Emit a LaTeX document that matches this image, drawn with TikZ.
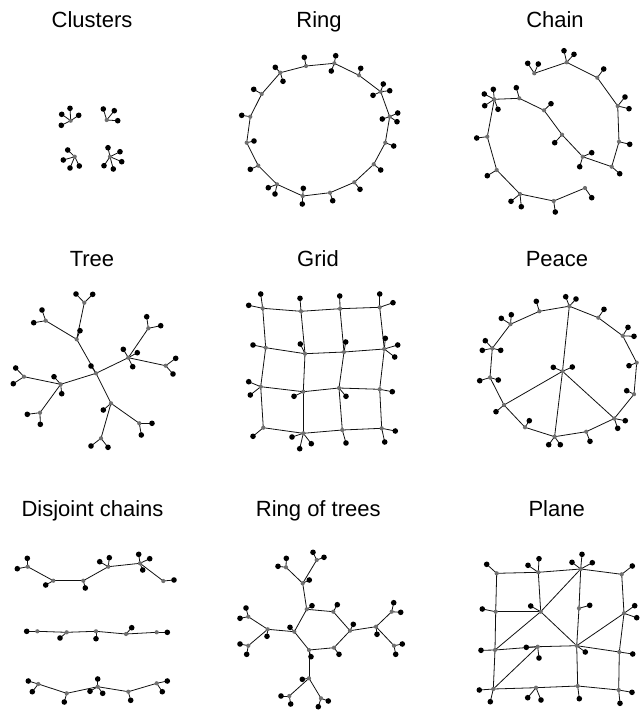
\documentclass[tikz,border=0pt]{standalone}
\usepackage{fontspec}
\setmainfont{Liberation Sans}
\definecolor{hubgray}{HTML}{707070}
\definecolor{wire}{HTML}{111111}
\pgfdeclarelayer{edges}
\pgfsetlayers{edges,main}

\begin{document}
\begin{tikzpicture}[x=1pt, y=-1pt,
    hub/.style={circle, fill=hubgray, inner sep=0pt, minimum size=4.2pt},
    leaf/.style={circle, fill=black, inner sep=0pt, minimum size=5.6pt},
    link/.style={draw=wire, line width=0.8pt},
    title/.style={font=\fontsize{22}{26}\selectfont, anchor=base}]
  \useasboundingbox (0,0) rectangle (644,710);

  % titles
  \node[title] (tclu) at (92,27.5) {Clusters};
  \node[title] (trng) at (319,27.5) {Ring};
  \node[title] (tchn) at (555,27.5) {Chain};
  \node[title] (ttre) at (92,266) {Tree};
  \node[title] (tgrd) at (318,266) {Grid};
  \node[title] (tpce) at (557,266) {Peace};
  \node[title] (tdis) at (92.5,516) {Disjoint chains};
  \node[title] (trot) at (318.3,516) {Ring of trees};
  \node[title] (tpln) at (556.7,516) {Plane};

  % clusters
  \foreach \n/\x/\y in {a/70.7/120.7, b/106.7/120, c/74.7/156.7, d/110/156.7}
    \node[hub] (k\n) at (\x,\y) {};
  \foreach \p/\x/\y [count=\i] in {ka/61.7/114.3, ka/70/108.3, ka/78.7/115.3, ka/61.3/125.3,
      kb/103.3/109, kb/114.3/110.7, kb/117.7/120.7,
      kc/67.7/150, kc/63.3/160, kc/70/168, kc/79.3/166,
      kd/108/147.7, kd/120/151.7, kd/121.7/161.7, kd/113.3/169, kd/104/165.7} {
    \node[leaf] (kl\i) at (\x,\y) {};
    \begin{pgfonlayer}{edges}\draw[link] (\p.center) -- (kl\i.center);\end{pgfonlayer}
  }

  % ring
  \foreach \x/\y [count=\i] in {306/66, 334.3/63.3, 359/75.3, 380.7/91.7, 389.7/116.7,
      385.3/142.7, 373.7/164.3, 354.3/182.3, 330/192.7, 302.7/196, 277/184.3,
      258.3/165.7, 246.7/142.7, 250.3/116.7, 261.7/94, 280.3/72.7}
    \node[hub] (r\i) at (\x,\y) {};
  \begin{pgfonlayer}{edges}
    \foreach \i [evaluate=\i as \j using {int(mod(\i,16)+1)}] in {1,...,16}
      \draw[link] (r\i.center) -- (r\j.center);
  \end{pgfonlayer}
  \foreach \p/\x/\y [count=\i] in {r1/304.3/57.3, r2/335.7/55.7, r2/331.3/71, r3/360.7/68.3,
      r4/383.3/84, r4/389.7/90.7, r4/373/95.3, r5/397.7/113, r5/397/121.7, r5/382.3/119,
      r6/393.7/146, r7/380.7/170, r8/360/189.3, r9/332.7/200.7, r10/303.3/188.3,
      r10/302.3/204, r11/268.3/187.7, r11/275/194, r12/250.3/169.3, r13/254/141,
      r14/241.7/115.3, r15/253.7/89.3, r16/275.3/67.3, r16/283/81.3} {
    \node[leaf] (rl\i) at (\x,\y) {};
    \begin{pgfonlayer}{edges}\draw[link] (\p.center) -- (rl\i.center);\end{pgfonlayer}
  }

  % chain
  \foreach \x/\y [count=\i] in {534.3/73.3, 566.7/62.3, 597.3/77.7, 617.7/106, 619/141.7,
      611.7/166.7, 582.7/156.7, 562/134.7, 544/110.3, 519.3/98.3, 494.3/99.3,
      487.3/136.7, 496.7/170, 520/194, 553.7/201, 585/188}
    \node[hub] (c\i) at (\x,\y) {};
  \begin{pgfonlayer}{edges}
    \foreach \i [evaluate=\i as \j using {int(\i+1)}] in {1,...,15}
      \draw[link] (c\i.center) -- (c\j.center);
  \end{pgfonlayer}
  \foreach \p/\x/\y [count=\i] in {c1/527.7/63.3, c1/538.3/64, c2/564/50.7, c2/574/54.3,
      c3/603.7/69, c4/625/97, c4/629/108.7, c5/629.7/144.3, c6/619.7/173.7,
      c7/591.7/152.7, c7/579.7/166.7, c8/554.7/142.7, c9/551/103.7, c10/516.3/87.7,
      c11/484.3/94, c11/493.3/89.3, c11/484.7/105.7, c11/498/109.3, c12/476.7/138,
      c13/487.3/175.7, c14/511/201.3, c14/521.3/206.7, c15/555.3/212, c16/591.7/197.7} {
    \node[leaf] (cl\i) at (\x,\y) {};
    \begin{pgfonlayer}{edges}\draw[link] (\p.center) -- (cl\i.center);\end{pgfonlayer}
  }

  % tree
  \foreach \n/\x/\y in {t0/96/373.3, ta/76.7/339.3, tb/128.3/357.7, tc/60.7/384.3,
      td/111/403.3, ta1/84.3/302.7, ta2/45.7/320.7, tb1/148.3/328.3, tb2/165.7/365.7,
      tc1/24/376.7, tc2/40/412.7, td1/139.3/423.3, td2/101/438.3}
    \node[hub] (\n) at (\x,\y) {};
  \begin{pgfonlayer}{edges}
    \foreach \a/\b in {t0/ta, t0/tb, t0/tc, t0/td, ta/ta1, ta/ta2, tb/tb1, tb/tb2,
        tc/tc1, tc/tc2, td/td1, td/td2}
      \draw[link] (\a.center) -- (\b.center);
  \end{pgfonlayer}
  \foreach \p/\x/\y [count=\i] in {t0/91/366, ta/80/330.7, ta1/76/294, ta1/92.7/294.3,
      ta2/42/310, ta2/33.7/322.7, tb/123.3/349.3, tb/137.3/352.7, tb/132.7/366.7,
      tb1/146.7/316.7, tb1/160.7/325.7, tb2/175.7/358.3, tb2/173/374,
      tc/54/376.7, tc/61.7/393.7, tc1/15.7/368, tc1/13.3/383.7, tc2/27.3/414.3,
      tc2/40.3/424.3, td/103.3/410, td1/152/423.3, td1/141.3/435, td2/91/446,
      td2/108/447.3} {
    \node[leaf] (tl\i) at (\x,\y) {};
    \begin{pgfonlayer}{edges}\draw[link] (\p.center) -- (tl\i.center);\end{pgfonlayer}
  }

  % grid
  \foreach \n/\x/\y in {11/262.7/308.3, 12/301/311.3, 13/340/308.7, 14/379.7/307.3,
      21/265.7/347.7, 22/305/353.7, 23/344/352, 24/384.3/349,
      31/260.7/386.7, 32/303.3/391.7, 33/339/388, 34/379.7/389.3,
      41/263.3/427.7, 42/303.3/433.3, 43/342.3/430, 44/381.7/428.3}
    \node[hub] (g\n) at (\x,\y) {};
  \begin{pgfonlayer}{edges}
    \foreach \r in {1,...,4}
      \foreach \c/\d in {1/2, 2/3, 3/4} {
        \draw[link] (g\r\c.center) -- (g\r\d.center);
        \draw[link] (g\c\r.center) -- (g\d\r.center);
      }
  \end{pgfonlayer}
  \foreach \p/\x/\y [count=\i] in {g11/260.7/294, g11/248.7/305.3, g12/300/298.3,
      g13/339.7/296, g14/379.7/294, g14/393/302.7, g21/253/345, g22/300.3/344,
      g23/345.7/342, g24/385.3/338.3, g24/397.7/345, g24/394.7/357,
      g31/248.7/381.7, g31/250.3/395, g32/294/396.3, g33/346/396.3, g34/392.3/391.7,
      g41/253/436.3, g42/292/437, g42/299.7/448.7, g42/311.3/443.7, g43/346/443,
      g44/395.3/431, g44/384.7/442} {
    \node[leaf] (gl\i) at (\x,\y) {};
    \begin{pgfonlayer}{edges}\draw[link] (\p.center) -- (gl\i.center);\end{pgfonlayer}
  }

  % peace
  \node[hub] (p0) at (562.5,371.3) {};
  \foreach \x/\y [count=\i] in {569.3/306.2, 598.3/317.7, 622.7/335.8, 636.7/362.7,
      634/394.2, 614.3/418.5, 586.2/431.7, 554.6/436.7, 525/427.3, 504/405,
      490/377.5, 492.3/348.3, 510.5/324.2, 539.3/311.3}
    \node[hub] (p\i) at (\x,\y) {};
  \begin{pgfonlayer}{edges}
    \foreach \i [evaluate=\i as \j using {int(mod(\i,14)+1)}] in {1,...,14}
      \draw[link] (p\i.center) -- (p\j.center);
    \foreach \b in {1, 6, 8, 10}
      \draw[link] (p0.center) -- (p\b.center);
  \end{pgfonlayer}
  \foreach \p/\x/\y [count=\i] in {p1/565.7/296.7, p1/576/299, p2/604/309.3,
      p3/628/327.3, p3/634/336.3, p4/629/365.7, p5/626.7/390.7, p6/625.3/420.7,
      p6/617.7/428.3, p7/590/441.3, p8/548.7/444.7, p8/560.3/444.7, p9/529.3/420.7,
      p10/496/411.7, p11/479.7/380.7, p11/498.3/380, p12/485.3/340.7,
      p12/482.3/350.3, p12/500.7/350.3, p13/501.3/318.3, p13/511.3/314.7,
      p14/536.3/301.3, p0/553.3/367.3, p0/572.3/367} {
    \node[leaf] (pl\i) at (\x,\y) {};
    \begin{pgfonlayer}{edges}\draw[link] (\p.center) -- (pl\i.center);\end{pgfonlayer}
  }

  % disjoint chains
  \foreach \n/\x/\y in {d1/27.7/566.7, d2/53.3/580.7, d3/83.3/580.7, d4/108.3/566.7,
      d5/140/563.3, d6/163.3/581, e1/37.3/631.3, e2/66.7/632.3, e3/96/631.3,
      e4/126/634, e5/156.7/632.3, f1/38.3/684, f2/66.7/693.3, f3/97.7/686.7,
      f4/128.3/691.7, f5/156.7/683.3}
    \node[hub] (\n) at (\x,\y) {};
  \begin{pgfonlayer}{edges}
    \foreach \a/\b in {d1/d2, d2/d3, d3/d4, d4/d5, d5/d6, e1/e2, e2/e3, e3/e4, e4/e5,
        f1/f2, f2/f3, f3/f4, f4/f5}
      \draw[link] (\a.center) -- (\b.center);
  \end{pgfonlayer}
  \foreach \p/\x/\y [count=\i] in {d1/17.3/568.7, d1/27.3/558.3, d2/45.7/585,
      d3/85.3/588, d4/99.7/561.7, d4/109.3/557.7, d5/138.7/554.3, d5/149.7/558.7,
      d5/142.7/570, d6/174/580, e1/26.7/631.3, e2/60/638, e3/96/638.7,
      e4/131.7/627.7, e5/167.3/632.3, f1/28.3/681, f1/32.3/691.7, f2/64.3/702,
      f3/97.7/679, f3/90/691.3, f3/102.7/693.3, f4/130.7/700.3, f5/167.3/681,
      f5/162.3/691.7} {
    \node[leaf] (dl\i) at (\x,\y) {};
    \begin{pgfonlayer}{edges}\draw[link] (\p.center) -- (dl\i.center);\end{pgfonlayer}
  }

  % ring of trees
  \foreach \n/\x/\y in {h1/306.7/609.3, h2/333.3/611.7, h3/350/630.7, h4/334/647.7,
      h5/309/650, h6/294.3/631.7, u/302.7/583.3, u1/286/567.3, u2/316.7/560,
      v/267.7/629.3, v1/248.3/616.7, v2/248.3/645.7, w/376/626.7, w1/391.7/611.7,
      w2/394/645.7, z/309/678.3, z1/289.3/696, z2/321/698.3}
    \node[hub] (\n) at (\x,\y) {};
  \begin{pgfonlayer}{edges}
    \foreach \a/\b in {h1/h2, h2/h3, h3/h4, h4/h5, h5/h6, h6/h1, h1/u, u/u1, u/u2,
        h6/v, v/v1, v/v2, h3/w, w/w1, w/w2, h5/z, z/z1, z/z2}
      \draw[link] (\a.center) -- (\b.center);
  \end{pgfonlayer}
  \foreach \p/\x/\y [count=\i] in {h1/312/605.7, h2/337.3/604.7, h3/353.3/624.3,
      h4/339/654.3, h5/311/656.7, h6/290/627.3, u/309.3/580, u1/286.3/558.3,
      u1/278/566.3, u2/313/552.3, u2/324/557.3, v/267/636.3, v1/246/608,
      v1/240/618.3, v2/240/644, v2/246.7/654.3, w/377/634.3, w1/393.7/602.7,
      w1/400.7/612.3, w2/402.3/644, w2/395.7/654.3, z/302.3/679.3, z1/281/696,
      z1/290.7/704, z2/328.3/701, z2/318.3/706.7} {
    \node[leaf] (hl\i) at (\x,\y) {};
    \begin{pgfonlayer}{edges}\draw[link] (\p.center) -- (hl\i.center);\end{pgfonlayer}
  }

  % plane
  \foreach \n/\x/\y in {11/496.7/573.3, 12/538.3/572.3, 13/580.7/569, 14/621.7/574.3,
      21/495.7/611.7, 22/540.7/611.7, 23/579/608.3, 24/624/613.3,
      31/495/650, 32/537.7/646.7, 33/576.7/645.7, 34/619.3/652,
      41/493.3/689, 42/536/687.7, 43/577.7/686, 44/618.7/690}
    \node[hub] (n\n) at (\x,\y) {};
  \begin{pgfonlayer}{edges}
    \foreach \a/\b in {11/12, 12/13, 13/14, 21/22, 31/32, 32/33, 33/34, 41/42, 42/43,
        43/44, 11/21, 21/31, 31/41, 12/22, 13/23, 23/33, 33/43, 14/24, 24/34, 34/44,
        31/22, 22/13, 22/33, 33/24, 32/41}
      \draw[link] (n\a.center) -- (n\b.center);
  \end{pgfonlayer}
  \foreach \p/\x/\y [count=\i] in {n11/486.7/564.3, n12/539/558.7, n12/528/565.3,
      n13/582/554.3, n13/572/562.3, n13/592.3/562.7, n14/632.3/566, n21/482.3/609,
      n22/530.7/606, n23/589.7/605.3, n24/634.7/605.7, n24/636.7/617.7,
      n31/481/650.3, n32/526.3/647.3, n32/539/658, n33/585.3/652, n34/632.7/654,
      n41/479.3/690, n41/490.3/701.7, n42/527.7/697.7, n42/541/700, n43/579.3/698.7,
      n44/632/692.3, n44/620/703.3} {
    \node[leaf] (nl\i) at (\x,\y) {};
    \begin{pgfonlayer}{edges}\draw[link] (\p.center) -- (nl\i.center);\end{pgfonlayer}
  }
\end{tikzpicture}
\end{document}
